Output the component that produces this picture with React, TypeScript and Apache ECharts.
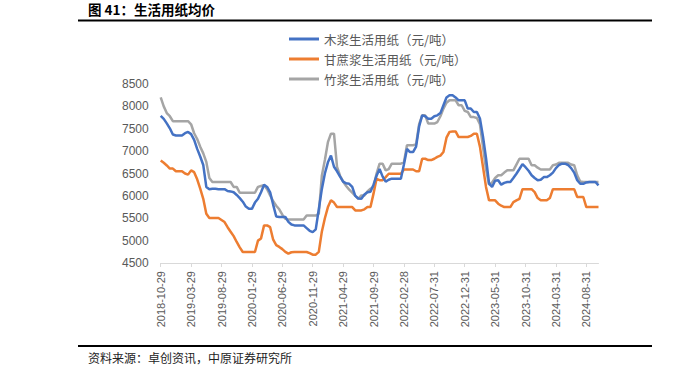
import React, { useEffect, useRef } from "react";
import * as echarts from "echarts";

const tickLabels = [
  "2018-10-29", "2019-03-29", "2019-08-29", "2020-01-29", "2020-06-29",
  "2020-11-29", "2021-04-29", "2021-09-29", "2022-02-28", "2022-07-31",
  "2022-12-31", "2023-05-31", "2023-10-31", "2024-03-31", "2024-08-31",
];

// semi-monthly samples, 2018-10-29 .. 2024-10-29
const woodPulp = [
  7790, 7720, 7620, 7510, 7370, 7350, 7350, 7350, 7400, 7430,
  7380, 7250, 7050, 6880, 6690, 6200, 6150, 6160, 6160, 6150,
  6150, 6150, 6110, 6100, 6080, 6020, 5950, 5870, 5760, 5710,
  5710, 5850, 5935, 6080, 6250, 6200, 6080, 5800, 5540, 5530,
  5530, 5530, 5420, 5360, 5340, 5340, 5340, 5340, 5280, 5220,
  5190, 5250, 5700, 6150, 6500, 6750, 6900, 6650, 6550, 6430,
  6320, 6280, 6270, 6200, 6000, 5940, 5935, 6030, 6080, 6090,
  6250, 6450, 6600, 6430, 6320, 6360, 6385, 6385, 6385, 6385,
  6700, 7050, 6980, 6980, 7100, 7550, 7800, 7780, 7725, 7725,
  7780, 7800, 7850, 8025, 8200, 8250, 8250, 8200, 8135, 8135,
  8135, 7950, 7950, 7875, 7875, 7730, 7330, 6850, 6280, 6200,
  6340, 6350, 6250, 6290, 6310, 6310, 6400, 6495, 6600, 6710,
  6640, 6560, 6460, 6400, 6350, 6360, 6420, 6420, 6460, 6520,
  6620, 6690, 6720, 6720, 6690, 6620, 6520, 6350, 6270, 6270,
  6300, 6310, 6310, 6310, 6235,
];

const bagassePulp = [
  6790, 6740, 6680, 6610, 6610, 6550, 6550, 6550, 6500, 6475,
  6570, 6530, 6370, 6160, 5935, 5600, 5505, 5505, 5505, 5505,
  5460, 5415, 5300, 5200, 5100, 4970, 4850, 4745, 4745, 4745,
  4745, 4745, 5000, 5050, 5340, 5340, 5300, 5020, 4900, 4860,
  4810, 4750, 4710, 4740, 4745, 4745, 4745, 4745, 4745, 4720,
  4685, 4685, 4750, 5200, 5500, 5750, 5900, 5850, 5750, 5750,
  5750, 5750, 5750, 5750, 5675, 5675, 5675, 5700, 5750, 5750,
  6050, 6380, 6350, 6350, 6420, 6495, 6495, 6495, 6495, 6495,
  6590, 6590, 6590, 6590, 6550, 6550, 6830, 6830, 6800, 6800,
  6830, 6870, 6900, 6980, 7300, 7430, 7440, 7440, 7315, 7315,
  7315, 7315, 7340, 7390, 7390, 7100, 6650, 6200, 5900, 5900,
  5900, 5825, 5780, 5750, 5750, 5750, 5860, 5900, 5935, 6150,
  6150, 6150, 6150, 6085, 5950, 5900, 5900, 5900, 5950, 6150,
  6150, 6150, 6150, 6150, 6150, 6150, 6150, 5975, 5975, 5975,
  5750, 5750, 5750, 5750, 5750,
];

const bambooPulp = [
  8200, 8000, 7850, 7780, 7670, 7670, 7670, 7670, 7670, 7670,
  7600, 7400, 7270, 7100, 6950, 6760, 6400, 6310, 6310, 6310,
  6310, 6310, 6310, 6310, 6200, 6200, 6070, 6070, 6070, 6070,
  6070, 6070, 6200, 6220, 6240, 6150, 6010, 5880, 5780, 5700,
  5580, 5490, 5470, 5470, 5470, 5470, 5470, 5470, 5560, 5560,
  5560, 5560, 5600, 6450, 6800, 7200, 7390, 7390, 6650, 6450,
  6320, 6220, 6140, 6070, 6000, 5935, 6010, 6010, 6100, 6160,
  6200, 6500, 6720, 6720, 6570, 6600, 6720, 6720, 6720, 6720,
  6750, 7130, 7130, 7130, 7150, 7600, 7800, 7800, 7615, 7615,
  7615, 7650, 7780, 7950, 8080, 8135, 8135, 8135, 8025, 8025,
  7900, 7875, 7760, 7760, 7740, 7600, 7100, 6600, 6250, 6300,
  6400, 6460, 6460, 6520, 6570, 6570, 6570, 6700, 6830, 6830,
  6830, 6830, 6685, 6685, 6630, 6590, 6590, 6590, 6590, 6685,
  6700, 6740, 6740, 6740, 6740, 6700, 6685, 6460, 6320, 6310,
  6310, 6310, 6310, 6310, 6310,
];

const seriesNames = [
  "木浆生活用纸（元/吨）",
  "甘蔗浆生活用纸（元/吨）",
  "竹浆生活用纸（元/吨）",
];
const seriesColors = ["#4472C4", "#ED7D31", "#A5A5A5"];

const categories = woodPulp.map((_, i) =>
  i % 10 === 0 ? tickLabels[i / 10] : `p${i}`
);

export default function App() {
  const ref = useRef<HTMLDivElement>(null);

  useEffect(() => {
    document.body.style.margin = "0";
    if (!ref.current) return;
    const chart = echarts.init(ref.current, null, { renderer: "svg" });
    const numFont = "'Liberation Sans', 'Noto Sans CJK SC', sans-serif";
    const cjkFont = "'Noto Sans CJK SC', sans-serif";
    const seriesData = [woodPulp, bagassePulp, bambooPulp];
    chart.setOption({
      animation: false,
      backgroundColor: "#ffffff",
      grid: { left: 160.7, right: 101.5, top: 84, bottom: 103, containLabel: false },
      legend: {
        orient: "vertical",
        left: 284,
        top: 27,
        icon: "rect",
        itemWidth: 30,
        itemHeight: 3,
        itemGap: 6,
        textStyle: {
          color: "#595959",
          fontSize: 12.5,
          lineHeight: 14,
          fontFamily: cjkFont,
        },
        data: seriesNames,
      },
      xAxis: {
        type: "category",
        data: categories,
        boundaryGap: false,
        axisLine: { show: true, lineStyle: { color: "#d9d9d9", width: 1 } },
        axisTick: { show: true, interval: 9, length: 4, lineStyle: { color: "#d9d9d9" } },
        axisLabel: {
          interval: 9,
          rotate: 90,
          margin: 8,
          color: "#595959",
          fontSize: 11,
          fontFamily: numFont,
        },
        splitLine: { show: false },
      },
      yAxis: {
        type: "value",
        min: 4500,
        max: 8500,
        interval: 500,
        axisLine: { show: false },
        axisTick: { show: false },
        splitLine: { show: false },
        axisLabel: {
          color: "#595959",
          fontSize: 12,
          margin: 12,
          fontFamily: numFont,
          formatter: (v: number) => String(v),
        },
      },
      series: seriesNames.map((name, k) => ({
        name,
        type: "line",
        data: seriesData[k],
        symbol: "none",
        showSymbol: false,
        z: k === 2 ? 1 : k === 0 ? 3 : 2,
        lineStyle: { color: seriesColors[k], width: 2.5 },
        itemStyle: { color: seriesColors[k] },
      })),
      graphic: [
        {
          type: "text",
          x: 88,
          y: 9,
          style: {
            text: "图 41：生活用纸均价",
            fontSize: 13.5,
            fontWeight: "bold",
            fontFamily: cjkFont,
            fill: "#000000",
            verticalAlign: "middle",
          },
        },
        {
          type: "line",
          shape: { x1: 78, y1: 20.5, x2: 652, y2: 20.5 },
          style: { stroke: "#000000", lineWidth: 2 },
        },
        {
          type: "line",
          shape: { x1: 78, y1: 346, x2: 652, y2: 346 },
          style: { stroke: "#000000", lineWidth: 2 },
        },
        {
          type: "text",
          x: 88,
          y: 357,
          style: {
            text: "资料来源：卓创资讯，中原证券研究所",
            fontSize: 12,
            fontFamily: cjkFont,
            fill: "#222222",
            verticalAlign: "middle",
          },
        },
      ],
    });
    return () => chart.dispose();
  }, []);

  return (
    <div
      ref={ref}
      style={{ position: "fixed", left: 0, top: 0, width: 700, height: 366 }}
    />
  );
}
